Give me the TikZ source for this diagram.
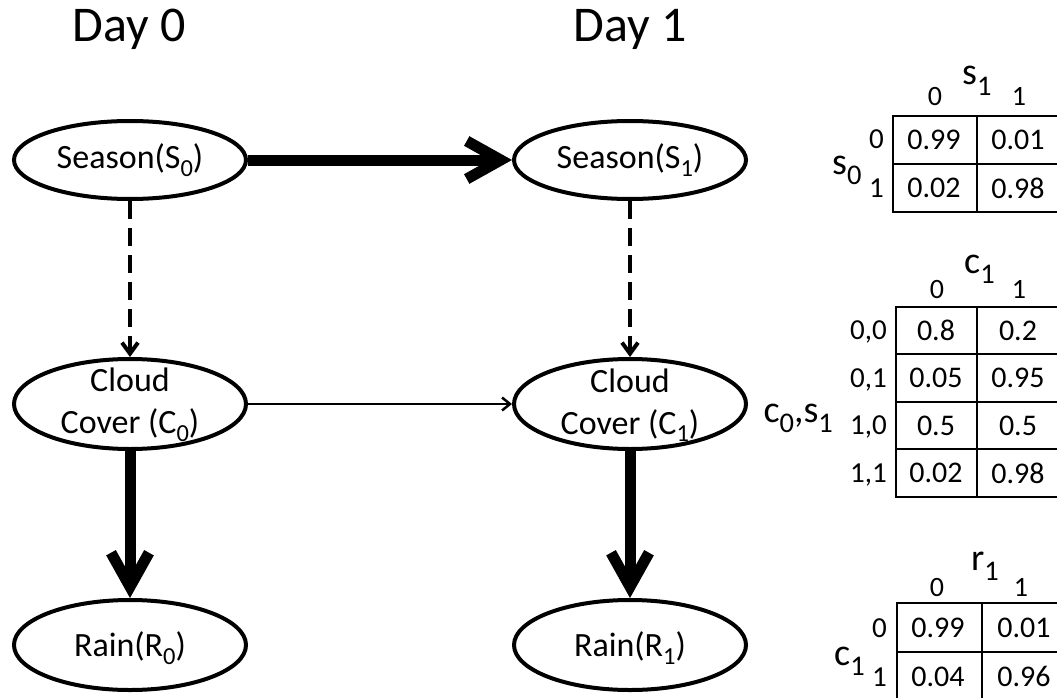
\documentclass[tikz,border=0pt]{standalone}
\usepackage{fontspec}
\setmainfont{Carlito}
\usetikzlibrary{arrows.meta,shapes.geometric}
% lowered index used inside node texts
\newcommand\lowsub[1]{\raisebox{-0.22em}{\scalebox{0.72}{#1}}}
\newcommand\tsub[1]{\raisebox{-0.28em}{\scalebox{0.75}{#1}}}

\begin{document}
\begin{tikzpicture}[x=1pt,y=-1pt,
  varnode/.style={ellipse, draw, line width=4pt, minimum width=232pt, minimum height=78pt, inner sep=0pt},
  tallnode/.style={varnode, minimum height=90pt},
  ntext/.style={font=\fontsize{34}{42}\selectfont, align=center, inner sep=0pt},
  dayhead/.style={font=\fontsize{50}{60}\selectfont, inner sep=0pt, anchor=base},
  bigflow/.style={line width=11pt, -{Straight Barb[length=34pt,width=38pt]}},
  depflow/.style={line width=4pt, dash pattern=on 18pt off 9pt, -{Straight Barb[length=11pt,width=16pt]}},
  thinflow/.style={line width=2.5pt, -{Straight Barb[length=8pt,width=13pt]}},
  grid/.style={line width=2pt},
  cellv/.style={font=\fontsize{30}{30}\selectfont, inner sep=0pt},
  rowlab/.style={font=\fontsize{29}{29}\selectfont, inner sep=0pt, anchor=base east},
  collab/.style={font=\fontsize{28}{28}\selectfont, inner sep=0pt, anchor=base},
  varlab/.style={font=\fontsize{38}{38}\selectfont, inner sep=0pt}
]
\useasboundingbox (0,0) rectangle (1057,698);
\clip (0,0) rectangle (1057,698);

% time slice headings
\node[dayhead] (day0) at (129,42) {Day 0};
\node[dayhead] (day1) at (630,42) {Day 1};

% network nodes
\node[varnode]  (s0) at (130,160) {};
\node[varnode]  (s1) at (630,160) {};
\node[tallnode] (c0) at (130,404) {};
\node[tallnode] (c1) at (630,404) {};
\node[tallnode] (r0) at (130,645) {};
\node[tallnode] (r1) at (630,645) {};

\node[ntext] (s0t) at (s0) {Season(S\lowsub{0})};
\node[ntext] (s1t) at (s1) {Season(S\lowsub{1})};
\node[ntext] (c0t) at ([yshift=-1pt]c0.center) {Cloud\\Cover (C\lowsub{0})};
\node[ntext] (c1t) at ([yshift=-1pt]c1.center) {Cloud\\Cover (C\lowsub{1})};
\node[ntext] (r0t) at ([yshift=-3pt]r0.center) {Rain(R\lowsub{0})};
\node[ntext] (r1t) at ([yshift=-3pt]r1.center) {Rain(R\lowsub{1})};

% dependencies
\draw[bigflow]  (s0.east)  -- (s1.west);
\draw[depflow]  (s0.south) -- (c0.north);
\draw[depflow]  (s1.south) -- (c1.north);
\draw[thinflow] (c0.east)  -- (c1.west);
\draw[bigflow]  (c0.south) -- (r0.north);
\draw[bigflow]  (c1.south) -- (r1.north);

% table for s_1 given s_0
\draw[grid] (893,116) rectangle (1060,212);
\draw[grid] (976.5,116) -- (976.5,212);
\draw[grid] (893,164) -- (1060,164);
\node[varlab, anchor=base west] (t1top) at (962,85) {s\tsub{1}};
\node[collab] (t1c0) at (935,106) {0};
\node[collab] (t1c1) at (1019,106) {1};
\node[varlab, anchor=base west] (t1side) at (832,174) {s\tsub{0}};
\node[rowlab] (t1r0) at (884,149) {0};
\node[rowlab] (t1r1) at (884,197) {1};
\node[cellv] (t1a) at (934,140) {0.99};
\node[cellv] (t1b) at (1018,140) {0.01};
\node[cellv] (t1c) at (934,188) {0.02};
\node[cellv] (t1d) at (1018,188) {0.98};

% table for c_1 given c_0, s_1
\draw[grid] (896,307) rectangle (1060,497);
\draw[grid] (977,307) -- (977,497);
\foreach \yy in {354,402,449} \draw[grid] (896,\yy) -- (1060,\yy);
\node[varlab, anchor=base west] (t2top) at (964,273) {c\tsub{1}};
\node[collab] (t2c0) at (937,298) {0};
\node[collab] (t2c1) at (1019,298) {1};
\node[varlab, anchor=base east] (t2side) at (833,422) {c\tsub{0},s\tsub{1}};
\node[rowlab] (t2r0) at (887,339.5) {0,0};
\node[rowlab] (t2r1) at (887,387) {0,1};
\node[rowlab] (t2r2) at (887,434.5) {1,0};
\node[rowlab] (t2r3) at (887,482) {1,1};
\node[cellv] (t2a) at (936,330.5) {0.8};
\node[cellv] (t2b) at (1018,330.5) {0.2};
\node[cellv] (t2c) at (936,378) {0.05};
\node[cellv] (t2d) at (1018,378) {0.95};
\node[cellv] (t2e) at (936,425.5) {0.5};
\node[cellv] (t2f) at (1018,425.5) {0.5};
\node[cellv] (t2g) at (936,473) {0.02};
\node[cellv] (t2h) at (1018,473) {0.98};

% table for r_1 given c_1
\draw[grid] (897,603) rectangle (1066,701);
\draw[grid] (981.5,603) -- (981.5,701);
\draw[grid] (897,652) -- (1066,652);
\node[varlab, anchor=base west] (t3top) at (971,570) {r\tsub{1}};
\node[collab] (t3c0) at (937,596) {0};
\node[collab] (t3c1) at (1021,596) {1};
\node[varlab, anchor=base west] (t3side) at (834,665) {c\tsub{1}};
\node[rowlab] (t3r0) at (887,637) {0};
\node[rowlab] (t3r1) at (887,686) {1};
\node[cellv] (t3a) at (938,627.5) {0.99};
\node[cellv] (t3b) at (1024,627.5) {0.01};
\node[cellv] (t3c) at (938,676.5) {0.04};
\node[cellv] (t3d) at (1024,676.5) {0.96};
\end{tikzpicture}
\end{document}
